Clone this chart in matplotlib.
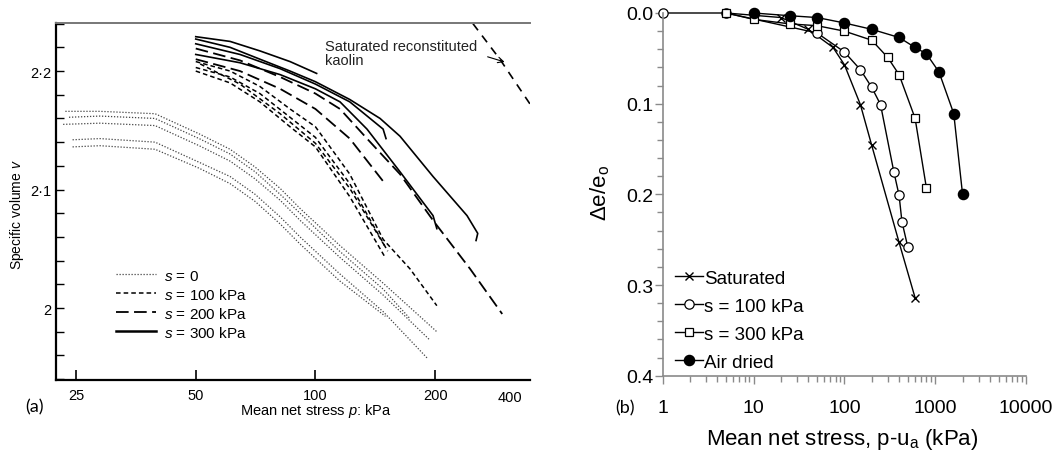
import numpy as np
import matplotlib
matplotlib.use("Agg")
import matplotlib.pyplot as plt
from matplotlib.ticker import FixedLocator, NullFormatter, LogLocator

plt.rcParams['font.family'] = ['Liberation Sans', 'DejaVu Sans']
plt.rcParams['mathtext.fontset'] = 'custom'
plt.rcParams['mathtext.rm'] = 'Liberation Sans'
plt.rcParams['mathtext.it'] = 'Liberation Sans:italic'

# ---- panel (a): specific volume vs mean net stress ----
# s = 0 (dotted)
dot1_p = [23.5, 28.7, 39.5, 51, 61, 70.5, 81.5, 91.5, 115, 148, 202]
dot1_v = [2.166, 2.166, 2.164, 2.147, 2.134, 2.119, 2.101, 2.084, 2.053, 2.021, 1.980]
dot2_p = [24, 28.7, 39.5, 51, 61, 70.5, 81.5, 91.5, 115, 148, 173]
dot2_v = [2.161, 2.162, 2.160, 2.143, 2.130, 2.115, 2.096, 2.080, 2.048, 2.016, 1.991]
dot3_p = [23.2, 28.7, 39.5, 51, 61, 70.5, 81.5, 91.5, 115, 148, 194]
dot3_v = [2.155, 2.156, 2.154, 2.137, 2.124, 2.109, 2.091, 2.074, 2.043, 2.011, 1.973]
dot4_p = [24.5, 28.7, 39.5, 51, 61, 70.5, 81.5, 91.5, 115, 148, 192]
dot4_v = [2.142, 2.143, 2.140, 2.123, 2.111, 2.096, 2.077, 2.060, 2.029, 1.997, 1.957]
dot5_p = [24.5, 28.7, 39.5, 51, 61, 70.5, 81.5, 91.5, 115, 150]
dot5_v = [2.136, 2.137, 2.134, 2.118, 2.105, 2.090, 2.071, 2.054, 2.023, 1.993]

# s = 100 kPa (short dash)
da1_p = [50, 61, 72.5, 86.3, 100, 122, 148, 173, 202]
da1_v = [2.208, 2.200, 2.187, 2.168, 2.153, 2.113, 2.058, 2.033, 2.002]
da2_p = [50, 61, 72.5, 86.3, 100, 122, 152]
da2_v = [2.203, 2.195, 2.181, 2.161, 2.144, 2.105, 2.048]
da3_p = [50, 61, 72.5, 86.3, 100, 122, 149.6]
da3_v = [2.200, 2.190, 2.174, 2.153, 2.136, 2.094, 2.043]
da4_p = [51.3, 64.6, 81.5, 100, 122, 149.6]
da4_v = [2.206, 2.189, 2.164, 2.139, 2.101, 2.052]

# s = 200 kPa (long dash)
ld1_p = [50, 64.6, 81.5, 100, 115.3, 134.8, 163.2, 197.6, 245, 295]
ld1_v = [2.219, 2.209, 2.195, 2.181, 2.168, 2.143, 2.113, 2.074, 2.033, 1.995]
ld2_p = [50, 64.6, 81.5, 100, 122, 148]
ld2_v = [2.210, 2.200, 2.185, 2.168, 2.143, 2.107]

# s = 300 kPa (solid)
sol1_p = [50, 61, 72.5, 86.3, 100, 122, 145.4, 163.2, 197.6, 240.6, 256, 253.5]
sol1_v = [2.227, 2.220, 2.210, 2.200, 2.191, 2.176, 2.160, 2.145, 2.111, 2.078, 2.063, 2.057]
sol2_p = [50, 64.6, 81.5, 100, 122, 148, 150.5]
sol2_v = [2.223, 2.214, 2.202, 2.189, 2.174, 2.151, 2.143]
sol3_p = [50, 64.6, 81.5, 100, 115.3, 134.8, 163.2, 197.6, 202]
sol3_v = [2.214, 2.207, 2.197, 2.185, 2.174, 2.151, 2.115, 2.078, 2.067]
sol4_p = [50, 61, 72.5, 86.3, 100.7]
sol4_v = [2.229, 2.225, 2.217, 2.208, 2.198]

# saturated reconstituted kaolin
kao_p = [249, 291, 350]
kao_v = [2.240, 2.210, 2.170]

# ---- panel (b): normalised void ratio change ----
sat_p = [5, 20, 40, 75, 100, 150, 200, 400, 600]
sat_de = [0.0, 0.005, 0.018, 0.038, 0.057, 0.101, 0.146, 0.253, 0.314]
s100_p = [1, 5, 50, 100, 150, 200, 250, 350, 400, 430, 500]
s100_de = [0.0, 0.0, 0.022, 0.043, 0.0625, 0.082, 0.101, 0.175, 0.201, 0.230, 0.2585]
s300_p = [5, 10, 25, 50, 100, 200, 300, 400, 600, 800]
s300_de = [0.0, 0.007, 0.012, 0.014, 0.020, 0.030, 0.049, 0.068, 0.116, 0.193]
air_p = [10, 25, 50, 100, 200, 400, 600, 800, 1100, 1600, 2000]
air_de = [0.0, 0.003, 0.005, 0.011, 0.018, 0.027, 0.038, 0.045, 0.065, 0.111, 0.200]

fig = plt.figure(figsize=(10.58, 4.56), dpi=100)

# ===== left panel =====
ax1 = fig.add_axes([0.0525, 0.1645, 0.4485, 0.7825])
ax1.set_xscale('log')
ax1.set_xlim(22.2, 346.6)
ax1.set_ylim(1.9393, 2.2404)

dotted = (0, (1, 1.4))
short_dash = (0, (3, 2))
long_dash = (0, (7, 3))

for p, v in [(dot1_p, dot1_v), (dot2_p, dot2_v), (dot3_p, dot3_v),
             (dot4_p, dot4_v), (dot5_p, dot5_v)]:
    ax1.plot(p, v, color='#444444', lw=0.9, ls=dotted)
for p, v in [(da1_p, da1_v), (da2_p, da2_v), (da3_p, da3_v), (da4_p, da4_v)]:
    ax1.plot(p, v, color='black', lw=1.1, ls=short_dash)
for p, v in [(ld1_p, ld1_v), (ld2_p, ld2_v)]:
    ax1.plot(p, v, color='black', lw=1.3, ls=long_dash)
for p, v in [(sol1_p, sol1_v), (sol2_p, sol2_v), (sol3_p, sol3_v), (sol4_p, sol4_v)]:
    ax1.plot(p, v, color='black', lw=1.2)
ax1.plot(kao_p, kao_v, color='black', lw=1.2, ls=(0, (5, 4)))

# legend handles
h0, = ax1.plot([], [], color='#444444', lw=0.9, ls=dotted, label='$s$ = 0')
h1, = ax1.plot([], [], color='black', lw=1.1, ls=short_dash, label='$s$ = 100 kPa')
h2, = ax1.plot([], [], color='black', lw=1.3, ls=long_dash, label='$s$ = 200 kPa')
h3, = ax1.plot([], [], color='black', lw=1.8, label='$s$ = 300 kPa')
ax1.legend(handles=[h0, h1, h2, h3], loc='upper left', bbox_to_anchor=(0.128, 0.312),
           frameon=False, fontsize=11, handlelength=2.6, handletextpad=0.5,
           labelspacing=0.26, borderpad=0, borderaxespad=0)

ax1.text(0.568, 0.955, 'Saturated reconstituted\nkaolin', transform=ax1.transAxes,
         fontsize=10.5, va='top', ha='left', linespacing=1.0, color='#222222')
ax1.annotate('', xy=(0.952, 0.889), xytext=(0.905, 0.908), xycoords='axes fraction',
             arrowprops=dict(arrowstyle='->', lw=0.8, color='black'))

ax1.spines['right'].set_visible(False)
ax1.spines['left'].set_linewidth(1.6)
ax1.spines['bottom'].set_linewidth(1.6)
ax1.spines['top'].set_linewidth(1.4)
ax1.spines['top'].set_color('#777777')

ax1.xaxis.set_major_locator(FixedLocator([25, 50, 100, 200]))
ax1.xaxis.set_minor_locator(FixedLocator([]))
ax1.set_xticklabels(['25', '50', '100', '200'])
ax1.yaxis.set_major_locator(FixedLocator([2.0, 2.1, 2.2]))
ax1.yaxis.set_minor_locator(FixedLocator(np.arange(1.94, 2.241, 0.02)))
ax1.set_yticklabels(['2', '2·1', '2·2'])
ax1.tick_params(axis='x', which='major', direction='in', length=7, width=1.2, pad=6,
                labelsize=10.5)
ax1.tick_params(axis='y', which='both', direction='in', length=6, width=1.0, pad=3,
                labelsize=10.5)
ax1.text(0.958, -0.028, '400', transform=ax1.transAxes, ha='center', va='top',
         fontsize=10.5)
fig.text(316 / 1058, 1 - 411 / 456, 'Mean net stress $p$: kPa', ha='center', va='center',
         fontsize=10.5)
fig.text(17 / 1058, 1 - 215 / 456, 'Specific volume $v$', ha='center', va='center',
         rotation=90, fontsize=10)
fig.text(35 / 1058, 1 - 407 / 456, '(a)', ha='center', va='center', fontsize=13,
         family=['Lato', 'DejaVu Sans'])

# ===== right panel =====
ax2 = fig.add_axes([0.6264, 0.1739, 0.3434, 0.7954])
ax2.set_xscale('log')
ax2.set_xlim(1, 10000)
ax2.set_ylim(0.4, 0.0)

ax2.plot(sat_p, sat_de, color='black', lw=1.0, marker='x', ms=6.2, mew=1.0,
         label='Saturated', clip_on=False)
ax2.plot(s100_p, s100_de, color='black', lw=1.0, marker='o', ms=6.7, mfc='white',
         mew=0.9, label='s = 100 kPa', clip_on=False)
ax2.plot(s300_p, s300_de, color='black', lw=1.0, marker='s', ms=6.4, mfc='white',
         mew=0.9, label='s = 300 kPa', clip_on=False)
ax2.plot(air_p, air_de, color='black', lw=1.0, marker='o', ms=7.3, mfc='black',
         label='Air dried', clip_on=False)

for side in ['top', 'right']:
    ax2.spines[side].set_visible(False)
for side in ['left', 'bottom']:
    ax2.spines[side].set_color('#8a8a8a')
    ax2.spines[side].set_linewidth(1.2)

ax2.yaxis.set_major_locator(FixedLocator([0.0, 0.1, 0.2, 0.3, 0.4]))
ax2.yaxis.set_minor_locator(FixedLocator(np.arange(0.02, 0.4, 0.02)))
ax2.set_yticklabels(['0.0', '0.1', '0.2', '0.3', '0.4'])
ax2.xaxis.set_major_locator(FixedLocator([1, 10, 100, 1000, 10000]))
ax2.set_xticklabels(['1', '10', '100', '1000', '10000'])
ax2.xaxis.set_minor_locator(LogLocator(base=10, subs=np.arange(2, 10)))
ax2.xaxis.set_minor_formatter(NullFormatter())
ax2.tick_params(axis='both', which='major', direction='out', length=6, width=1.0,
                color='#8a8a8a', labelsize=14)
ax2.tick_params(axis='both', which='minor', direction='out', length=4, width=1.0,
                color='#8a8a8a')
ax2.tick_params(axis='y', which='major', pad=1)
ax2.tick_params(axis='x', which='major', pad=11)

ax2.legend(loc='upper left', bbox_to_anchor=(0.033, 0.292), frameon=False, fontsize=13.5,
           handlelength=1.5, handletextpad=0.08, labelspacing=0.58, borderpad=0,
           borderaxespad=0)

fig.text(842 / 1058, 1 - 440 / 456, 'Mean net stress, p-u$_\\mathrm{a}$ (kPa)',
         ha='center', va='center', fontsize=16)
fig.text(600 / 1058, 1 - 193 / 456, 'Δe/e$_\\mathrm{o}$', ha='center', va='center',
         rotation=90, fontsize=16)
fig.text(625 / 1058, 1 - 408 / 456, '(b)', ha='center', va='center', fontsize=13,
         family=['Lato', 'DejaVu Sans'])

fig.savefig('out.png', dpi=100)
